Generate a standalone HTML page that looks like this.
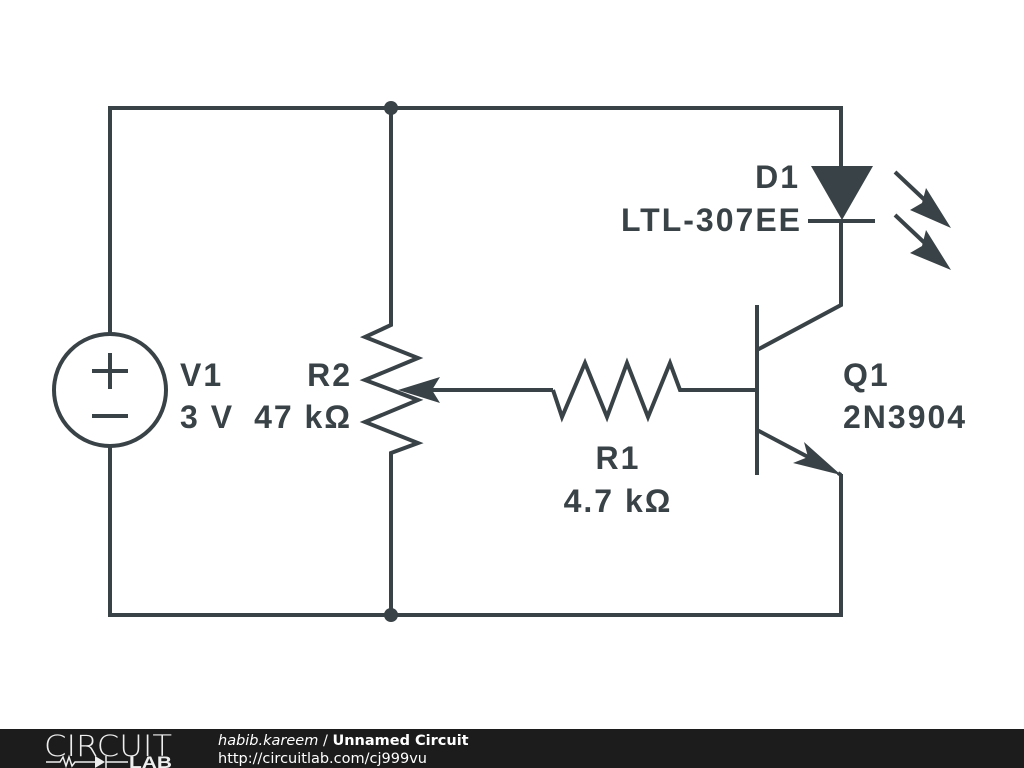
<!DOCTYPE html>
<html><head><style>
html,body{margin:0;padding:0;background:#fff;width:1024px;height:768px;overflow:hidden}
</style></head><body>
<svg width="1024" height="768" xmlns="http://www.w3.org/2000/svg" style="position:absolute;left:0;top:0">
<g stroke="#394246" stroke-width="4" fill="none" stroke-linejoin="miter">
<polyline points="110,334 110,108 841,108 841,166"/>
<polyline points="110,446 110,615 841,615 841,475"/>
<circle cx="110" cy="390" r="56"/>
<line x1="92" y1="371" x2="128" y2="371"/><line x1="110" y1="353" x2="110" y2="389"/>
<line x1="92" y1="416" x2="128" y2="416"/>
<polyline points="391,108 391,325 365,337 418,358 365,380 418,400 365,422 418,443 391,453 391,615"/>
<line x1="420" y1="390" x2="553" y2="390"/>
<polyline points="553,390 562,417 585,363 607,417 627,363 648,417 670,363 680,390 757,390"/>
<line x1="757" y1="305" x2="757" y2="475"/>
<polyline points="757,350 841,305 841,221"/>
<polyline points="757,430 810,458"/>
<line x1="838" y1="473" x2="841" y2="475"/><line x1="841" y1="474" x2="841" y2="480"/>
<line x1="808" y1="221" x2="875" y2="221"/>
<line x1="895" y1="172" x2="930" y2="205"/>
<line x1="895" y1="215" x2="930" y2="248"/>
</g>
<g fill="#394246">
<circle cx="391" cy="108" r="7"/><circle cx="391" cy="615" r="7"/>
<polygon points="811,166 873,166 842,220"/>
<polygon points="398,390 440,377 432,390 440,403"/>
<polygon points="841,475 793,463 808,457 804,442"/>
<polygon points="951,228 910,210 922,203 926,188"/>
<polygon points="951,270 910,253 922,246 926,230"/>
</g>
<g font-family="Liberation Sans, sans-serif" font-weight="bold" font-size="32" fill="#394246" letter-spacing="2">
<text x="180" y="386">V1</text>
<text x="180" y="428">3 V</text>
<text x="352" y="386" text-anchor="end">R2</text>
<text x="352" y="428" text-anchor="end">47 kΩ</text>
<text x="618" y="469" text-anchor="middle">R1</text>
<text x="618" y="512" text-anchor="middle">4.7 kΩ</text>
<text x="800" y="188" text-anchor="end">D1</text>
<text x="802" y="231" text-anchor="end">LTL-307EE</text>
<text x="843" y="386">Q1</text>
<text x="843" y="428">2N3904</text>
</g>
<rect x="0" y="729" width="1024" height="39" fill="#1c1c1c"/>
<text x="44" y="756" font-family="DejaVu Sans, sans-serif" font-size="29" fill="#eee" font-weight="200" textLength="128" lengthAdjust="spacingAndGlyphs">CIRCUIT</text>
<polyline points="46,762 60,762 63,757 66,766 69,757 72,766 75,762 95,762" stroke="#eee" stroke-width="1.5" fill="none"/>
<polygon points="95,756 95,768 105,762" fill="#eee"/><line x1="106" y1="756" x2="106" y2="768" stroke="#eee" stroke-width="1.5"/><line x1="106" y1="762" x2="128" y2="762" stroke="#eee" stroke-width="1.5"/>
<text x="129" y="768" font-family="Liberation Sans, sans-serif" font-weight="bold" font-size="17" fill="#eee" textLength="43" lengthAdjust="spacingAndGlyphs">LAB</text>
<text x="218" y="745" font-family="DejaVu Sans, sans-serif" font-size="14.5" fill="#fff"><tspan font-style="italic">habib.kareem</tspan> / <tspan font-weight="bold">Unnamed Circuit</tspan></text>
<text x="218" y="763" font-family="DejaVu Sans, sans-serif" font-size="14.5" fill="#fff">http://circuitlab.com/cj999vu</text>
</svg>
</body></html>
